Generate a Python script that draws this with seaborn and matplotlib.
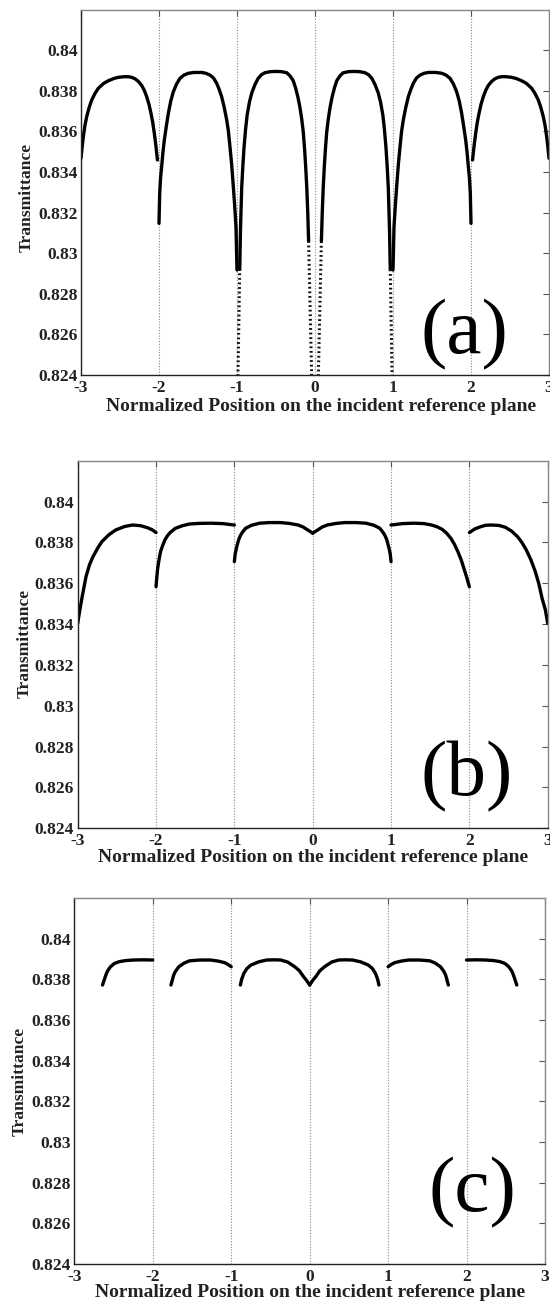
import numpy as np
import pandas as pd
import matplotlib
matplotlib.use("Agg")
import matplotlib.pyplot as plt
import seaborn as sns

# ---------------- data ----------------
X_TICKS = [-3, -2, -1, 0, 1, 2, 3]
X_TICK_LABELS = ["-3", "-2", "-1", "0", "1", "2", "3"]
Y_TICKS = [0.824, 0.826, 0.828, 0.830, 0.832, 0.834, 0.836, 0.838, 0.840]
Y_TICK_LABELS = ["0.824", "0.826", "0.828", "0.83", "0.832", "0.834", "0.836", "0.838", "0.84"]
PANEL_TAGS = ["(a)", "(b)", "(c)"]

# Panel (a): solid arches
A_X = [
    [-3.0, -2.985, -2.97, -2.95, -2.927, -2.895, -2.863, -2.82, -2.778, -2.71, -2.65, -2.58, -2.522, -2.45,
     -2.393, -2.35, -2.308, -2.265, -2.222, -2.19, -2.158, -2.13, -2.103, -2.08, -2.06, -2.04, -2.02],
    [-2.0, -1.995, -1.991, -1.98, -1.966, -1.95, -1.932, -1.905, -1.88, -1.85, -1.816, -1.775, -1.731, -1.68,
     -1.624, -1.55, -1.453, -1.40, -1.346, -1.30, -1.261, -1.23, -1.197, -1.165, -1.132, -1.11, -1.09, -1.068,
     -1.047, -1.03, -1.013, -1.0],
    [-0.965, -0.955, -0.94, -0.925, -0.91, -0.89, -0.87, -0.84, -0.81, -0.77, -0.73, -0.69, -0.64, -0.57, -0.5,
     -0.43, -0.36, -0.32, -0.28, -0.25, -0.22, -0.195, -0.17, -0.15, -0.135, -0.12, -0.105, -0.093, -0.082],
    [0.082, 0.093, 0.105, 0.12, 0.135, 0.15, 0.17, 0.195, 0.22, 0.25, 0.28, 0.32, 0.36, 0.43, 0.5,
     0.57, 0.64, 0.69, 0.73, 0.77, 0.81, 0.84, 0.87, 0.89, 0.91, 0.925, 0.94, 0.955, 0.965],
    [1.0, 1.013, 1.03, 1.047, 1.068, 1.09, 1.11, 1.132, 1.165, 1.197, 1.23, 1.261, 1.30, 1.346, 1.40, 1.453,
     1.55, 1.624, 1.68, 1.731, 1.775, 1.816, 1.85, 1.88, 1.905, 1.932, 1.95, 1.966, 1.98, 1.991, 1.995, 2.0],
    [2.02, 2.04, 2.06, 2.08, 2.103, 2.13, 2.158, 2.19, 2.222, 2.265, 2.308, 2.35, 2.393, 2.45, 2.522, 2.58,
     2.65, 2.71, 2.778, 2.82, 2.863, 2.895, 2.927, 2.95, 2.97, 2.985, 3.0],
]
A_Y = [
    [0.83467, 0.83525, 0.83574, 0.83628, 0.83672, 0.83718, 0.83754, 0.83787, 0.83812, 0.83836, 0.83849, 0.83860,
     0.83866, 0.83869, 0.83869, 0.83866, 0.83859, 0.83846, 0.83826, 0.83803, 0.83771, 0.83735, 0.83689, 0.83643,
     0.83590, 0.83530, 0.83459],
    [0.83147, 0.83230, 0.83295, 0.83370, 0.83426, 0.83495, 0.83557, 0.83628, 0.83689, 0.83748, 0.83795, 0.83833,
     0.83861, 0.83877, 0.83886, 0.83890, 0.83890, 0.83886, 0.83877, 0.83862, 0.83837, 0.83808, 0.83771, 0.83720,
     0.83656, 0.83600, 0.83524, 0.83435, 0.83327, 0.83235, 0.83130, 0.82917],
    [0.8292, 0.8312, 0.8332, 0.8343, 0.8352, 0.8361, 0.8368, 0.83745, 0.8379, 0.8383, 0.8386, 0.83878, 0.83889,
     0.83894, 0.83895, 0.83894, 0.83888, 0.83873, 0.8385, 0.83815, 0.8377, 0.83722, 0.8366, 0.83595, 0.8352,
     0.8343, 0.8332, 0.8320, 0.8306],
    [0.8306, 0.8320, 0.8332, 0.8343, 0.8352, 0.83595, 0.8366, 0.83722, 0.8377, 0.83815, 0.8385, 0.83873, 0.83888,
     0.83894, 0.83895, 0.83894, 0.83889, 0.83878, 0.8386, 0.8383, 0.8379, 0.83745, 0.8368, 0.8361, 0.8352,
     0.8343, 0.8332, 0.8312, 0.8292],
    [0.82917, 0.83130, 0.83235, 0.83327, 0.83435, 0.83524, 0.83600, 0.83656, 0.83720, 0.83771, 0.83808, 0.83837,
     0.83862, 0.83877, 0.83886, 0.83890, 0.83890, 0.83886, 0.83877, 0.83861, 0.83833, 0.83795, 0.83748, 0.83689,
     0.83628, 0.83557, 0.83495, 0.83426, 0.83370, 0.83295, 0.83230, 0.83147],
    [0.83459, 0.83530, 0.83590, 0.83643, 0.83689, 0.83735, 0.83771, 0.83803, 0.83826, 0.83846, 0.83859, 0.83866,
     0.83869, 0.83869, 0.83866, 0.83860, 0.83849, 0.83836, 0.83812, 0.83787, 0.83754, 0.83718, 0.83672, 0.83628,
     0.83574, 0.83525, 0.83467],
]
# Panel (a): steep sparsely-sampled drops (drawn dotted)
A_DROP_X = [[-0.99, -0.965], [-0.082, -0.04], [0.04, 0.082], [0.965, 0.99]]
A_DROP_Y = [[0.8235, 0.8292], [0.8306, 0.8235], [0.8235, 0.8306], [0.8292, 0.8235]]

# Panel (b)
B_X = [
    [-3.0, -2.985, -2.97, -2.94, -2.894, -2.85, -2.805, -2.74, -2.693, -2.6, -2.514, -2.4, -2.3, -2.2, -2.11,
     -2.05, -2.0],
    [-2.0, -1.99, -1.98, -1.967, -1.955, -1.94, -1.92, -1.887, -1.855, -1.82, -1.753, -1.66, -1.573, -1.45, -1.3,
     -1.15, -1.0],
    [-1.0, -0.99, -0.975, -0.96, -0.946, -0.925, -0.9, -0.857, -0.78, -0.678, -0.55, -0.41, -0.3, -0.185, -0.12,
     -0.073, -0.035, 0.0],
    [0.0, 0.035, 0.073, 0.12, 0.185, 0.3, 0.41, 0.55, 0.678, 0.78, 0.857, 0.9, 0.925, 0.946, 0.96, 0.975, 0.99,
     1.0],
    [1.0, 1.15, 1.293, 1.42, 1.518, 1.59, 1.652, 1.71, 1.764, 1.81, 1.854, 1.895, 1.93, 1.965, 2.0],
    [2.0, 2.07, 2.145, 2.21, 2.28, 2.38, 2.459, 2.54, 2.615, 2.67, 2.727, 2.785, 2.839, 2.885, 2.929, 2.97, 3.0],
]
B_Y = [
    [0.83404, 0.83440, 0.83475, 0.83540, 0.83632, 0.83690, 0.83730, 0.83775, 0.83803, 0.83838, 0.83861, 0.83878,
     0.83885, 0.83882, 0.83872, 0.83862, 0.83848],
    [0.83583, 0.83630, 0.83670, 0.83703, 0.83730, 0.83758, 0.83780, 0.83812, 0.83832, 0.83848, 0.83869, 0.83882,
     0.83890, 0.83893, 0.83894, 0.83892, 0.83885],
    [0.83706, 0.83742, 0.83770, 0.83793, 0.83812, 0.83832, 0.83848, 0.83869, 0.83884, 0.83894, 0.83897, 0.83897,
     0.83893, 0.83885, 0.83875, 0.83863, 0.83854, 0.83845],
    [0.83845, 0.83854, 0.83863, 0.83875, 0.83885, 0.83893, 0.83897, 0.83897, 0.83894, 0.83884, 0.83869, 0.83848,
     0.83832, 0.83812, 0.83793, 0.83770, 0.83742, 0.83706],
    [0.83885, 0.83892, 0.83894, 0.83892, 0.83885, 0.83876, 0.83864, 0.83845, 0.83820, 0.83790, 0.83754, 0.83715,
     0.83673, 0.83630, 0.83583],
    [0.83848, 0.83866, 0.83877, 0.83884, 0.83885, 0.83883, 0.83874, 0.83855, 0.83828, 0.83800, 0.83763, 0.83715,
     0.83660, 0.83600, 0.83525, 0.83470, 0.83404],
]

# Panel (c)
C_X = [
    [-2.64, -2.63, -2.62, -2.605, -2.59, -2.575, -2.555, -2.538, -2.49, -2.426, -2.35, -2.248, -2.12, -2.0],
    [-1.768, -1.758, -1.75, -1.733, -1.715, -1.7, -1.667, -1.6, -1.532, -1.4, -1.264, -1.17, -1.084, -1.04, -1.0],
    [-0.883, -0.874, -0.865, -0.838, -0.8, -0.749, -0.65, -0.548, -0.45, -0.369, -0.28, -0.19, -0.13, -0.078,
     -0.04, 0.0],
    [0.0, 0.04, 0.078, 0.13, 0.19, 0.28, 0.369, 0.45, 0.548, 0.65, 0.749, 0.8, 0.838, 0.865, 0.874, 0.883],
    [1.0, 1.04, 1.084, 1.17, 1.264, 1.4, 1.532, 1.6, 1.667, 1.7, 1.715, 1.733, 1.75, 1.758, 1.768],
    [2.0, 2.12, 2.248, 2.35, 2.426, 2.49, 2.538, 2.555, 2.575, 2.59, 2.605, 2.62, 2.63, 2.64],
]
C_Y = [
    [0.83772, 0.83784, 0.83795, 0.83813, 0.83829, 0.83842, 0.83853, 0.83862, 0.83878, 0.83887, 0.83892, 0.83895,
     0.83896, 0.83895],
    [0.83772, 0.83786, 0.83798, 0.83821, 0.83836, 0.83845, 0.83862, 0.83880, 0.83891, 0.83895, 0.83895, 0.83890,
     0.83882, 0.83873, 0.83862],
    [0.83772, 0.83788, 0.83802, 0.83830, 0.83853, 0.83870, 0.83886, 0.83895, 0.83896, 0.83895, 0.83885, 0.83862,
     0.83842, 0.83813, 0.83795, 0.83772],
    [0.83772, 0.83795, 0.83813, 0.83842, 0.83862, 0.83885, 0.83895, 0.83896, 0.83895, 0.83886, 0.83870, 0.83853,
     0.83830, 0.83802, 0.83788, 0.83772],
    [0.83862, 0.83873, 0.83882, 0.83890, 0.83895, 0.83895, 0.83891, 0.83880, 0.83862, 0.83845, 0.83836, 0.83821,
     0.83798, 0.83786, 0.83772],
    [0.83895, 0.83896, 0.83895, 0.83892, 0.83887, 0.83878, 0.83862, 0.83853, 0.83842, 0.83829, 0.83813, 0.83795,
     0.83784, 0.83772],
]

X_LABEL = "Normalized Position on the incident reference plane"
Y_LABEL = "Transmittance"


def segments_frame(xs, ys):
    rows = []
    for i, (sx, sy) in enumerate(zip(xs, ys)):
        for a, b in zip(sx, sy):
            rows.append((i, a, b))
    return pd.DataFrame(rows, columns=["seg", "x", "y"])


# ---------------- style ----------------
sns.set_style("white")
plt.rcParams["font.family"] = ["Liberation Serif", "DejaVu Serif"]
plt.rcParams["font.weight"] = "bold"

fig = plt.figure(figsize=(5.5, 13.1), dpi=100)
W, H = 550.0, 1310.0
# axes boxes in pixels: left, right, top, bottom
boxes = [(81, 549, 9.5, 375), (77.7, 547.7, 460.7, 828.3), (74.3, 545, 898, 1264)]
tag_pos = [(0.82, 0.112), (0.827, 0.141), (0.845, 0.194)]
xlab_pos = [(0.513, -0.064), (0.50, -0.056), (0.50, -0.054)]
ylab_pos = [(-0.100, 0.487), (-0.096, 0.504), (-0.100, 0.499)]

panels = [(A_X, A_Y), (B_X, B_Y), (C_X, C_Y)]

for k, ((px, py), (l, r, t, b)) in enumerate(zip(panels, boxes)):
    ax = fig.add_axes([l / W, 1 - b / H, (r - l) / W, (b - t) / H])
    df = segments_frame(px, py)
    sns.lineplot(data=df, x="x", y="y", units="seg", estimator=None, sort=False,
                 color="black", lw=2.4, ax=ax, legend=False,
                 solid_joinstyle="round", solid_capstyle="round")
    if k == 0:
        dd = segments_frame(A_DROP_X, A_DROP_Y)
        sns.lineplot(data=dd, x="x", y="y", units="seg", estimator=None, sort=False,
                     color="#111111", lw=2.2, ax=ax, legend=False, linestyle=(0, (0.6, 0.9)))

    ax.set_xlim(-3, 3)
    ax.set_ylim(0.824, 0.842)
    ax.set_xticks(X_TICKS)
    ax.set_xticklabels(X_TICK_LABELS)
    ax.set_yticks(Y_TICKS)
    ax.set_yticklabels(Y_TICK_LABELS)
    ax.xaxis.grid(True, linestyle=(0, (1, 1.5)), color="#8a8a8a", lw=0.8)
    ax.yaxis.grid(False)
    ax.tick_params(axis="both", direction="in", length=4, width=0.8, color="#555555",
                   labelsize=12.6, top=True, right=True)
    ax.tick_params(axis="y", pad=2.5)
    ax.tick_params(axis="x", pad=3.5)
    for lab in ax.get_xticklabels() + ax.get_yticklabels():
        lab.set_fontweight("bold")
        lab.set_color("#222222")
    for side in ["left", "bottom"]:
        ax.spines[side].set_color("#222222")
        ax.spines[side].set_linewidth(1.0)
    for side in ["top", "right"]:
        ax.spines[side].set_color("#888888")
        ax.spines[side].set_linewidth(1.0)

    ax.set_xlabel(X_LABEL, fontsize=14, fontweight="bold", color="#222222")
    ax.set_ylabel(Y_LABEL, fontsize=12.6, fontweight="bold", color="#222222")
    ax.xaxis.set_label_coords(*xlab_pos[k])
    ax.yaxis.set_label_coords(*ylab_pos[k])

    ax.text(tag_pos[k][0], tag_pos[k][1], PANEL_TAGS[k], transform=ax.transAxes,
            ha="center", va="center", fontsize=57, fontweight="normal", color="black")

fig.savefig("out.png", dpi=100)
